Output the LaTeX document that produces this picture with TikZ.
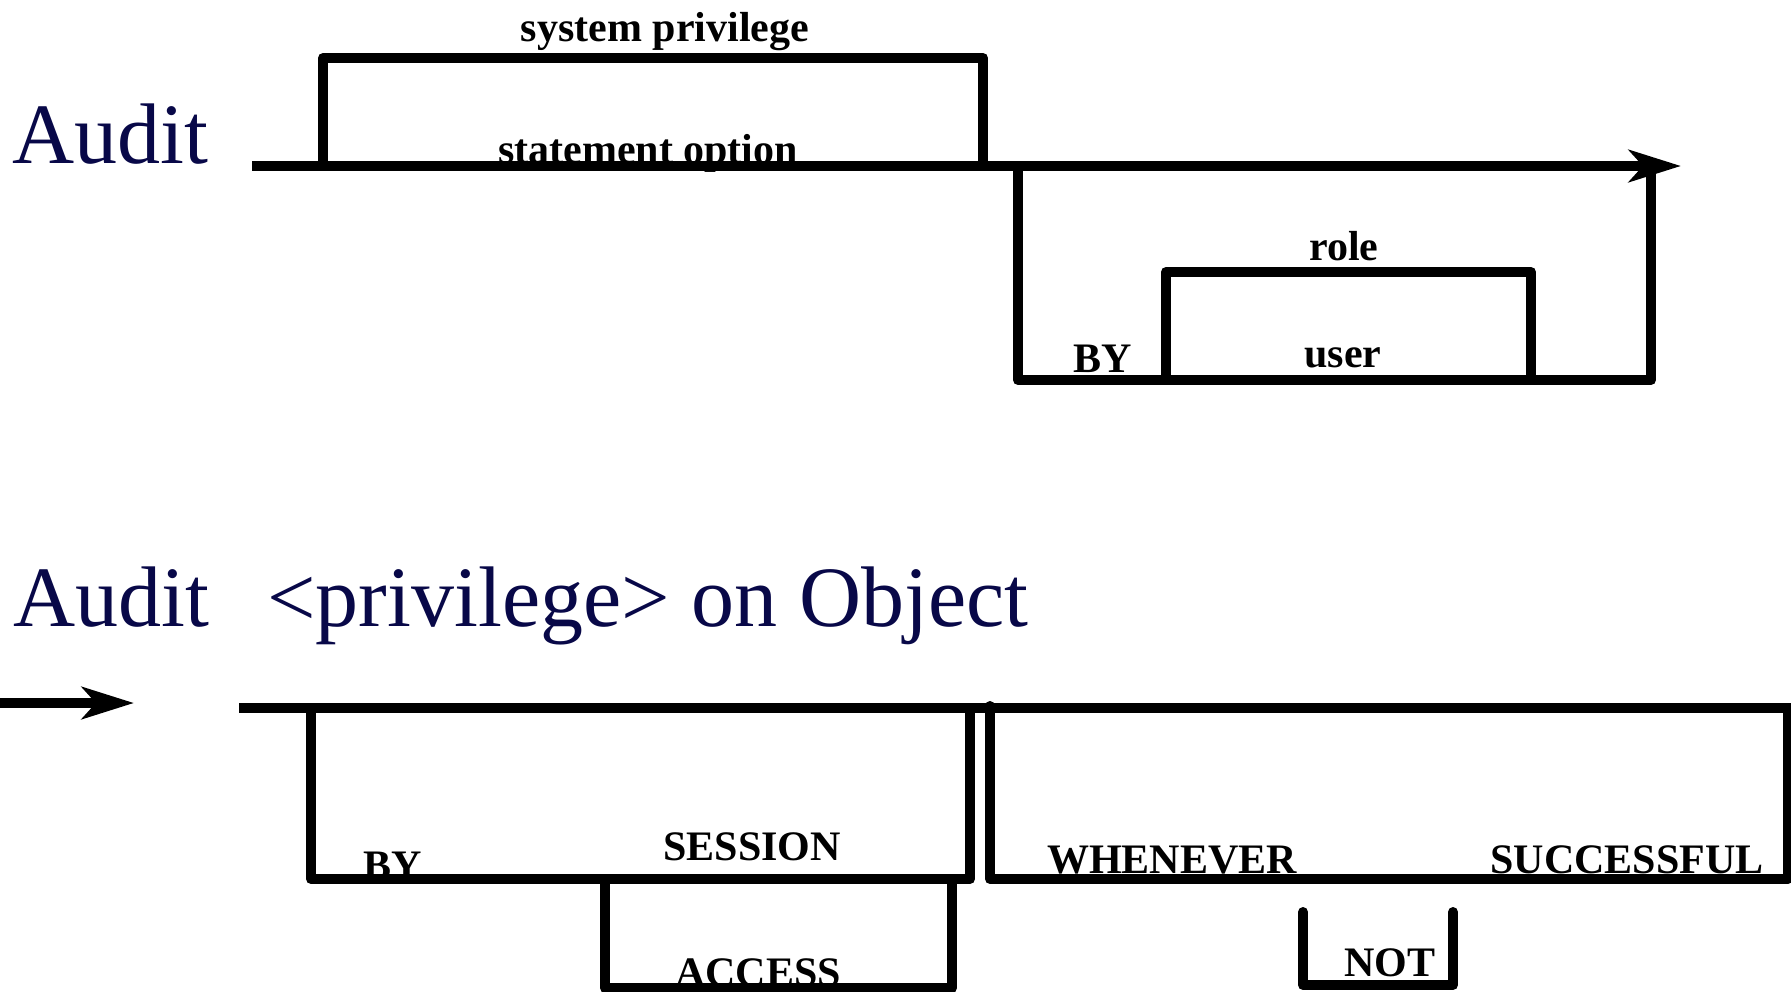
\documentclass[tikz,border=0pt]{standalone}
\usepackage{fontspec}
\setmainfont{Liberation Serif}
\usepackage{xcolor}
\usetikzlibrary{arrows.meta}
\definecolor{navyink}{RGB}{8,8,72}

\begin{document}
\begin{tikzpicture}[x=0.5pt,y=-0.5pt,>={Stealth[length=26pt,width=16pt,inset=7pt]},
  rail/.style={line width=5pt,line join=round},
  kw/.style={font=\bfseries\fontsize{21}{21}\selectfont,inner sep=0pt,anchor=base},
  ttl/.style={font=\fontsize{43}{43}\selectfont,text=navyink,inner sep=0pt,anchor=base west}]
\useasboundingbox (0,0) rectangle (1791,991);
% first form: statement / system privilege
\node[ttl] (audit1) at (12,163) {Audit};
\node[kw] (sysprv) at (665,41) {system privilege};
\node[kw] (stmt) at (648,163) {statement option};
\node[kw] (role) at (1344,260) {role};
\node[kw] (by1) at (1103,372) {BY};
\node[kw] (user) at (1343,367) {user};
\coordinate (start1) at (252,166);
\coordinate (end1) at (1681,166);
\coordinate (up1) at (323,166);
\coordinate (up2) at (983,166);
\coordinate (dn1) at (1018,166);
\coordinate (dn2) at (1651,166);
\coordinate (in1) at (1166,380);
\coordinate (in2) at (1531,380);
\draw[rail] (up1) -- ++(0,-108) -| (up2);
\draw[rail] (dn1) -- ++(0,214) -| (dn2);
\draw[rail] (in1) -- ++(0,-108) -| (in2);
\draw[rail,->] (start1) -- (end1);
% second form: on object
\node[ttl] (audit2) at (13,626) {Audit\hspace{29pt}<privilege> on Object};
\node[kw] (by2) at (393,879) {BY};
\node[kw] (session) at (752,860) {SESSION};
\node[kw] (access) at (758,986) {ACCESS};
\node[kw] (whenever) at (1172,873) {WHENEVER};
\node[kw] (success) at (1627,873) {SUCCESSFUL};
\node[kw] (nottxt) at (1390,976) {NOT};
\coordinate (entry) at (0,703);
\coordinate (entryend) at (134,703);
\coordinate (start2) at (239,708);
\coordinate (end2) at (1800,708);
\coordinate (bx1a) at (311,708);
\coordinate (bx1b) at (970,708);
\coordinate (acc1) at (605,879);
\coordinate (acc2) at (952,879);
\coordinate (bx2a) at (990,706);
\coordinate (bx2b) at (1788,708);
\coordinate (not1) at (1303,912);
\coordinate (not2) at (1453,912);
\draw[rail,->] (entry) -- (entryend);
\draw[rail] (start2) -- (end2);
\draw[rail] (bx1a) -- ++(0,171) -| (bx1b);
\draw[rail] (acc1) -- ++(0,109) -| (acc2);
\draw[rail,line cap=round] (bx2a) -- ++(0,173) -| (bx2b);
\draw[rail,line cap=round] (not1) -- ++(0,73) -| (not2);
\end{tikzpicture}
\end{document}
